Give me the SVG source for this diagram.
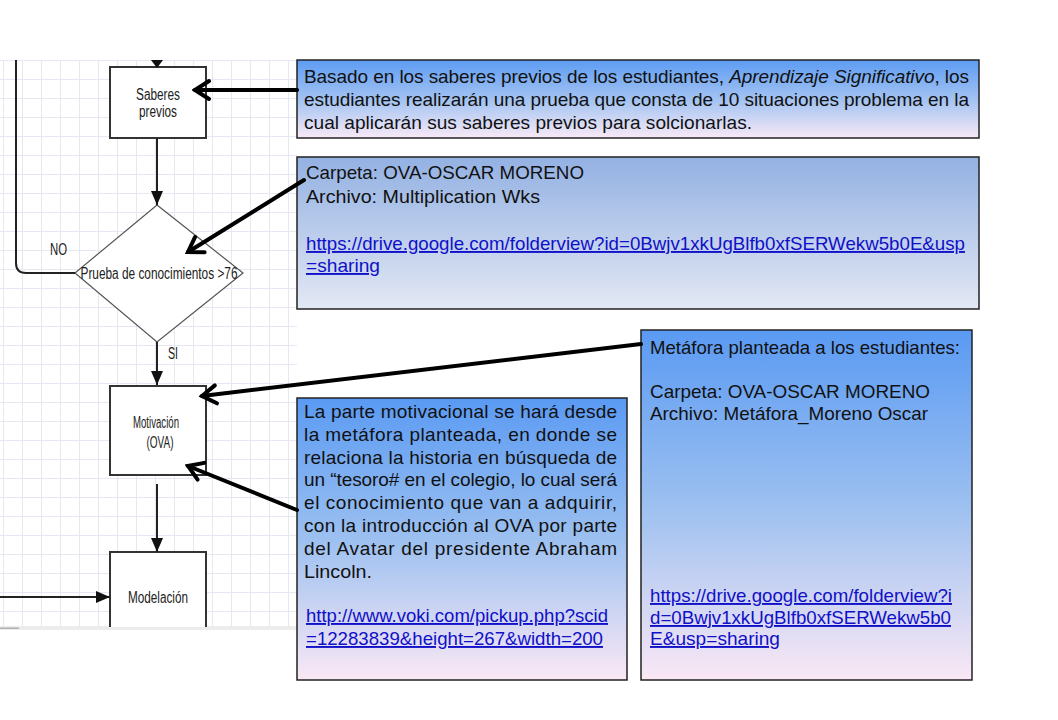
<svg xmlns="http://www.w3.org/2000/svg" width="1058" height="720" viewBox="0 0 1058 720">
<style>
.fc{font-family:"Liberation Sans",Arial,sans-serif;font-size:16px;fill:#222}
.tx{font-family:"Liberation Sans",Arial,sans-serif;font-size:19px;fill:#111}
.lk{font-family:"Liberation Sans",Arial,sans-serif;font-size:19px;fill:#1010c8;text-decoration:underline}
.box{stroke:#222;stroke-width:1.5}
.fbox{fill:#fff;stroke:#333;stroke-width:2}
.thin{fill:none;stroke:#222;stroke-width:2}
.thick{fill:none;stroke:#000;stroke-width:4;stroke-linecap:round}
</style>
<defs>
<pattern id="grid" width="19" height="19" patternUnits="userSpaceOnUse" x="3" y="3">
<rect width="19" height="19" fill="#fff"/>
<path d="M0,0.5 H19 M0.5,0 V19" stroke="#e7e7f4" stroke-width="1"/>
</pattern>
<linearGradient id="g1" x1="0" y1="0" x2="0" y2="1">
<stop offset="0" stop-color="#5d9cf3"/><stop offset="0.55" stop-color="#a9c6f2"/><stop offset="1" stop-color="#f8e9f6"/>
</linearGradient>
<linearGradient id="g2" x1="0" y1="0" x2="0" y2="1">
<stop offset="0" stop-color="#93b1e3"/><stop offset="1" stop-color="#e3e8f4"/>
</linearGradient>
<linearGradient id="g3" x1="0" y1="0" x2="0" y2="1">
<stop offset="0" stop-color="#5a9af3"/><stop offset="0.5" stop-color="#9cc0f0"/><stop offset="1" stop-color="#fae8f5"/>
</linearGradient>
<marker id="tri" markerUnits="userSpaceOnUse" viewBox="0 0 14 12" markerWidth="14" markerHeight="12" refX="14" refY="6" orient="auto">
<path d="M0,0 L14,6 L0,12 Z" fill="#111"/>
</marker>
<marker id="chev" markerUnits="userSpaceOnUse" viewBox="0 0 20 24" markerWidth="20" markerHeight="24" refX="17" refY="12" orient="auto">
<path d="M3,3 L17,12 L3,21" fill="none" stroke="#000" stroke-width="4" stroke-linecap="round" stroke-linejoin="miter"/>
</marker>
</defs>
<rect width="1058" height="720" fill="#fff"/>

<g id="screenshot">
<rect x="0" y="60" width="297" height="567" fill="url(#grid)"/>
<rect x="0" y="626" width="297" height="4" fill="#ececec"/>
<rect x="0" y="627.5" width="19" height="1.5" fill="#b0b0b0"/>
</g>

<g id="saberes">
<rect class="fbox" x="110" y="67" width="96" height="71"/>
<text class="fc" x="158" y="100" text-anchor="middle" textLength="44" lengthAdjust="spacingAndGlyphs">Saberes</text>
<text class="fc" x="158" y="117" text-anchor="middle" textLength="38" lengthAdjust="spacingAndGlyphs">previos</text>
</g>

<g id="prueba">
<polygon points="157,205 243,273 157,342 75,273" fill="#fff" stroke="#555" stroke-width="1.2"/>
<text class="fc" x="159" y="279" text-anchor="middle" textLength="157" lengthAdjust="spacingAndGlyphs">Prueba de conocimientos &gt;76</text>
<text class="fc" x="50" y="255" textLength="17" lengthAdjust="spacingAndGlyphs">NO</text>
<text class="fc" x="168" y="359" textLength="10" lengthAdjust="spacingAndGlyphs">SI</text>
</g>

<g id="motivacion">
<rect class="fbox" x="110" y="386" width="96" height="89"/>
<text class="fc" x="156" y="428" text-anchor="middle" textLength="46" lengthAdjust="spacingAndGlyphs">Motivación</text>
<text class="fc" x="160" y="448" text-anchor="middle" textLength="27" lengthAdjust="spacingAndGlyphs">(OVA)</text>
</g>

<g id="modelacion">
<path class="fbox" d="M110,627 V552 H206 V627" fill="#fff"/>
<text class="fc" x="158" y="603" text-anchor="middle" textLength="60" lengthAdjust="spacingAndGlyphs">Modelación</text>
</g>

<g id="note-saberes">
<rect class="box" x="297" y="60" width="682" height="78" fill="url(#g1)"/>
<text class="tx" x="304" y="83" textLength="665" lengthAdjust="spacing">Basado en los saberes previos de los estudiantes, <tspan font-style="italic">Aprendizaje Significativo</tspan>, los</text>
<text class="tx" x="304" y="106" textLength="665" lengthAdjust="spacing">estudiantes realizarán una prueba que consta de 10 situaciones problema en la</text>
<text class="tx" x="304" y="129" textLength="448" lengthAdjust="spacingAndGlyphs">cual aplicarán sus saberes previos para solcionarlas.</text>
</g>

<g id="note-carpeta1">
<rect class="box" x="297" y="157" width="682" height="152" fill="url(#g2)"/>
<text class="tx" x="306" y="179" textLength="278" lengthAdjust="spacingAndGlyphs">Carpeta: OVA-OSCAR MORENO</text>
<text class="tx" x="306" y="203" textLength="234" lengthAdjust="spacingAndGlyphs">Archivo: Multiplication Wks</text>
<text class="lk" x="306" y="250" textLength="659" lengthAdjust="spacingAndGlyphs">https://drive.google.com/folderview?id=0Bwjv1xkUgBlfb0xfSERWekw5b0E&amp;usp</text>
<text class="lk" x="306" y="272" textLength="74" lengthAdjust="spacingAndGlyphs">=sharing</text>
</g>

<g id="note-motivacion">
<rect class="box" x="297" y="398" width="330" height="282" fill="url(#g3)"/>
<text class="tx" x="304" y="418" textLength="313" lengthAdjust="spacing">La parte motivacional se hará desde</text>
<text class="tx" x="304" y="441" textLength="313" lengthAdjust="spacing">la metáfora planteada, en donde se</text>
<text class="tx" x="304" y="464" textLength="313" lengthAdjust="spacing">relaciona la historia en búsqueda de</text>
<text class="tx" x="304" y="486" textLength="313" lengthAdjust="spacing">un “tesoro# en el colegio, lo cual será</text>
<text class="tx" x="304" y="509" textLength="313" lengthAdjust="spacing">el conocimiento que van a adquirir,</text>
<text class="tx" x="304" y="532" textLength="313" lengthAdjust="spacing">con la introducción al OVA por parte</text>
<text class="tx" x="304" y="555" textLength="313" lengthAdjust="spacing">del Avatar del presidente Abraham</text>
<text class="tx" x="304" y="578" textLength="68" lengthAdjust="spacingAndGlyphs">Lincoln.</text>
<text class="lk" x="306" y="622" textLength="302" lengthAdjust="spacingAndGlyphs">http://www.voki.com/pickup.php?scid</text>
<text class="lk" x="306" y="645" textLength="297" lengthAdjust="spacingAndGlyphs">=12283839&amp;height=267&amp;width=200</text>
</g>

<g id="note-metafora">
<rect class="box" x="641" y="330" width="331" height="350" fill="url(#g3)"/>
<text class="tx" x="650" y="354" textLength="310" lengthAdjust="spacingAndGlyphs">Metáfora planteada a los estudiantes:</text>
<text class="tx" x="650" y="398" textLength="280" lengthAdjust="spacingAndGlyphs">Carpeta: OVA-OSCAR MORENO</text>
<text class="tx" x="650" y="420" textLength="278" lengthAdjust="spacingAndGlyphs">Archivo: Metáfora_Moreno Oscar</text>
<text class="lk" x="650" y="602" textLength="302" lengthAdjust="spacingAndGlyphs">https://drive.google.com/folderview?i</text>
<text class="lk" x="650" y="624" textLength="301" lengthAdjust="spacingAndGlyphs">d=0Bwjv1xkUgBlfb0xfSERWekw5b0</text>
<text class="lk" x="650" y="645" textLength="130" lengthAdjust="spacingAndGlyphs">E&amp;usp=sharing</text>
</g>

<g id="connectors">
<polygon points="151,60 163,60 157,68" fill="#111"/>
<line class="thin" x1="157" y1="138" x2="157" y2="205" marker-end="url(#tri)"/>
<line class="thin" x1="157" y1="342" x2="157" y2="385" marker-end="url(#tri)"/>
<line class="thin" x1="157" y1="484" x2="157" y2="552" marker-end="url(#tri)"/>
<line class="thin" x1="0" y1="597" x2="110" y2="597" marker-end="url(#tri)"/>
<path class="thin" d="M16,60 V263 Q16,273 26,273 H75"/>
<line class="thick" x1="297" y1="90" x2="195" y2="90" marker-end="url(#chev)"/>
<line class="thick" x1="304" y1="180" x2="188" y2="252" marker-end="url(#chev)"/>
<line class="thick" x1="641" y1="344" x2="202" y2="396" marker-end="url(#chev)"/>
<line class="thick" x1="297" y1="510" x2="188" y2="466" marker-end="url(#chev)"/>
</g>
</svg>
